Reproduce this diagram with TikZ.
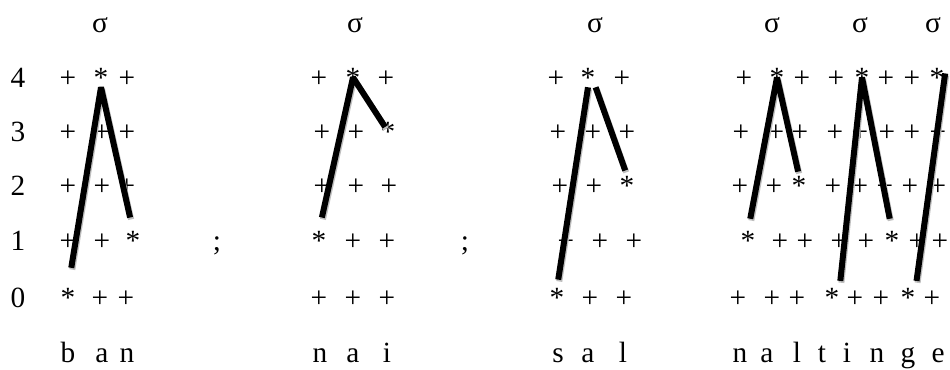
\documentclass[tikz,border=0pt]{standalone}
\usepackage{fontspec}
\setmainfont{Liberation Serif}
\usepackage{tikz}
\tikzstyle{cell}   = [inner sep=0pt, anchor=base, font=\fontsize{22}{26}\selectfont]
\tikzstyle{branch} = [line width=4.5pt, line join=bevel, black,
                      preaction={draw=gray!50, line width=4.5pt, line join=bevel,
                                 transform canvas={shift={(0.8pt,-1.4pt)}}}]

\begin{document}
\begin{tikzpicture}[x=0.75pt, y=-0.75pt]
    \useasboundingbox (0,0) rectangle (950,369);

    % sonority tiers
    \foreach \r/\y in {4/87,3/141,2/195,1/250,0/307}
        \node[cell] (tier\r) at (18,\y) {\r};

    % ban
    \node[cell] (ban-syl) at (100,32) {σ};
    \foreach \x/\m [count=\c] in {68/+,101/*,127/+} \node[cell] (ban-\c-4) at (\x,87) {\m};
    \foreach \x/\m [count=\c] in {68/+,102/+,127/+} \node[cell] (ban-\c-3) at (\x,141) {\m};
    \foreach \x/\m [count=\c] in {68/+,102/+,127/+} \node[cell] (ban-\c-2) at (\x,195) {\m};
    \foreach \x/\m [count=\c] in {68/+,102/+,133/*} \node[cell] (ban-\c-1) at (\x,250) {\m};
    \foreach \x/\m [count=\c] in {68/*,100/+,126/+} \node[cell] (ban-\c-0) at (\x,307) {\m};
    \foreach \x/\l [count=\c] in {68/b,102/a,127/n} \node[cell] (ban-seg\c) at (\x,362) {\l};
    \node[cell] (sep1) at (217,250) {;};

    % nai
    \node[cell] (nai-syl) at (355,32) {σ};
    \foreach \x/\m [count=\c] in {319/+,353/*,386/+} \node[cell] (nai-\c-4) at (\x,87) {\m};
    \foreach \x/\m [count=\c] in {322/+,356/+,388/*} \node[cell] (nai-\c-3) at (\x,141) {\m};
    \foreach \x/\m [count=\c] in {322/+,356/+,389/+} \node[cell] (nai-\c-2) at (\x,195) {\m};
    \foreach \x/\m [count=\c] in {319/*,353/+,387/+} \node[cell] (nai-\c-1) at (\x,250) {\m};
    \foreach \x/\m [count=\c] in {319/+,353/+,387/+} \node[cell] (nai-\c-0) at (\x,307) {\m};
    \foreach \x/\l [count=\c] in {320/n,353/a,387/i} \node[cell] (nai-seg\c) at (\x,362) {\l};
    \node[cell] (sep2) at (465,250) {;};

    % sal
    \node[cell] (sal-syl) at (595,32) {σ};
    \foreach \x/\m [count=\c] in {556/+,588/*,622/+} \node[cell] (sal-\c-4) at (\x,87) {\m};
    \foreach \x/\m [count=\c] in {558/+,593/+,627/+} \node[cell] (sal-\c-3) at (\x,141) {\m};
    \foreach \x/\m [count=\c] in {560/+,594/+,627/*} \node[cell] (sal-\c-2) at (\x,195) {\m};
    \foreach \x/\m [count=\c] in {566/+,600/+,634/+} \node[cell] (sal-\c-1) at (\x,250) {\m};
    \foreach \x/\m [count=\c] in {557/*,590/+,624/+} \node[cell] (sal-\c-0) at (\x,307) {\m};
    \foreach \x/\l [count=\c] in {558/s,588/a,623/l} \node[cell] (sal-seg\c) at (\x,362) {\l};

    % naltinge
    \foreach \x [count=\c] in {772,860,933} \node[cell] (nal-syl\c) at (\x,32) {σ};
    \foreach \x/\m [count=\c] in {744/+,777/*,802/+,836/+,862/*,886/+,912/+,937/*}
        \node[cell] (nal-\c-4) at (\x,87) {\m};
    \foreach \x/\m [count=\c] in {741/+,776/+,800/+,835/+,860/+,887/+,912/+,938/+}
        \node[cell] (nal-\c-3) at (\x,141) {\m};
    \foreach \x/\m [count=\c] in {740/+,774/+,799/*,833/+,860/+,885/+,910/+,938/+}
        \node[cell] (nal-\c-2) at (\x,195) {\m};
    \foreach \x/\m [count=\c] in {748/*,780/+,805/+,839/+,866/+,892/*,917/+,940/+}
        \node[cell] (nal-\c-1) at (\x,250) {\m};
    \foreach \x/\m [count=\c] in {738/+,772/+,797/+,832/*,855/+,881/+,908/*,932/+}
        \node[cell] (nal-\c-0) at (\x,307) {\m};
    \foreach \x/\l [count=\c] in {740/n,767/a,797/l,822/t,847/i,877/n,908/g,938/e}
        \node[cell] (nal-seg\c) at (\x,362) {\l};

    % syllable branches
    \draw[branch, shorten <=15pt, shorten >=10pt] (ban-1-0.north) -- (ban-2-4.south) -- (ban-3-1.north);
    \draw[branch, shorten <=10pt, shorten >=4pt] (nai-1-1.north) -- (nai-2-4.center) -- (nai-3-3.center);
    \draw[branch, shorten <=6pt] (sal-1-0.north) -- (sal-2-4.south);
    \draw[branch, shorten >=4pt] (sal-2-4.south east) -- (sal-3-2.north);
    \draw[branch, shorten <=9pt, shorten >=3pt] (nal-1-1.north) -- (nal-2-4.center) -- (nal-3-2.north);
    \draw[branch, shorten <=5pt, shorten >=9pt] (nal-4-0.north east) -- (nal-5-4.center) -- (nal-6-1.north);
    \draw[branch, shorten <=5pt, shorten >=-3pt] (nal-7-0.north east) -- (nal-8-4.east);
\end{tikzpicture}
\end{document}
